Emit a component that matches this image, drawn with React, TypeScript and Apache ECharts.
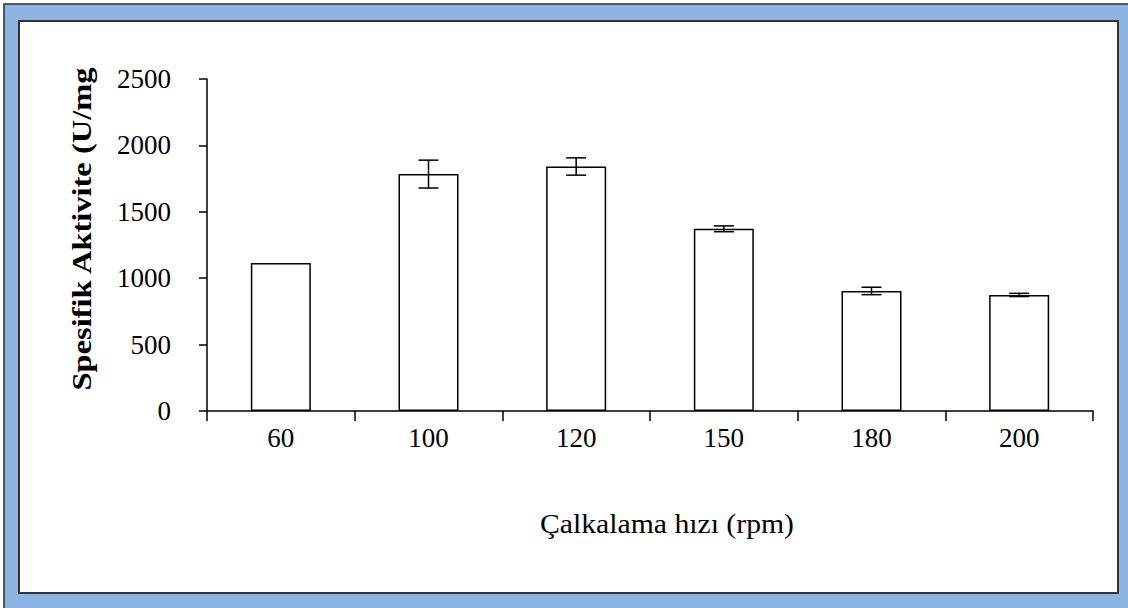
import React, { useEffect, useRef } from "react";
import * as echarts from "echarts";

const categories = ["60", "100", "120", "150", "180", "200"];
const values = [1115, 1784, 1841, 1372, 904, 874];
const errors = [0, 105, 65, 22, 28, 12];
const yTicks = { min: 0, max: 2500, interval: 500 };
const xTitle = "Çalkalama hızı (rpm)";
const yTitle = "Spesifik Aktivite (U/mg";

export default function App() {
  const ref = useRef<HTMLDivElement>(null);
  useEffect(() => {
    const chart = echarts.init(ref.current!, undefined, { renderer: "svg" });
    const font = "'Liberation Serif', 'Times New Roman', serif";
    chart.setOption({
      animation: false,
      backgroundColor: "#ffffff",
      graphic: [
        {
          type: "rect",
          z: -10,
          shape: { x: 4, y: 4, width: 1130, height: 610 },
          style: { fill: "#8eb4e3", stroke: "#2b2b2b", lineWidth: 1.5 },
        },
        {
          type: "rect",
          z: -9,
          shape: { x: 19, y: 21, width: 1099, height: 572 },
          style: { fill: "#ffffff", stroke: "#333333", lineWidth: 2 },
        },
        {
          type: "text",
          x: 82,
          y: 229,
          rotation: Math.PI / 2,
          scaleX: 1.16,
          style: {
            text: yTitle,
            font: `bold 28px ${font}`,
            fill: "#000",
            align: "center",
            verticalAlign: "middle",
          },
        },
        {
          type: "text",
          x: 667,
          y: 524,
          scaleX: 1.1,
          style: {
            text: xTitle,
            font: `27px ${font}`,
            fill: "#000",
            align: "center",
            verticalAlign: "middle",
          },
        },
      ],
      grid: { left: 207, right: 35, top: 79, bottom: 197, containLabel: false },
      xAxis: {
        type: "category",
        data: categories,
        boundaryGap: true,
        axisLine: { show: true, lineStyle: { color: "#000", width: 1.5 } },
        axisTick: { show: true, length: 10, lineStyle: { color: "#000", width: 1.5 } },
        axisLabel: { fontFamily: font, fontSize: 27, color: "#000", margin: 13 },
        splitLine: { show: false },
      },
      yAxis: {
        type: "value",
        min: yTicks.min,
        max: yTicks.max,
        interval: yTicks.interval,
        axisLine: { show: true, lineStyle: { color: "#000", width: 1.5 } },
        axisTick: { show: true, length: 8, lineStyle: { color: "#000", width: 1.5 } },
        axisLabel: {
          fontFamily: font,
          fontSize: 27,
          color: "#000",
          margin: 36,
          formatter: (v: number) => String(v),
        },
        splitLine: { show: false },
      },
      series: [
        {
          type: "bar",
          data: values,
          barWidth: 60,
          itemStyle: { color: "#ffffff", borderColor: "#000", borderWidth: 1.5 },
        },
        {
          type: "custom",
          data: values.map((v, i) => [i, v, errors[i]]),
          z: 5,
          renderItem: (params: any, api: any) => {
            const i = api.value(0);
            const v = api.value(1);
            const e = api.value(2);
            if (!e) return null;
            const hi = api.coord([i, v + e]);
            const lo = api.coord([i, v - e]);
            const half = 10;
            const st = { stroke: "#000", lineWidth: 1.5 };
            return {
              type: "group",
              children: [
                { type: "line", shape: { x1: hi[0], y1: hi[1], x2: lo[0], y2: lo[1] }, style: st },
                { type: "line", shape: { x1: hi[0] - half, y1: hi[1], x2: hi[0] + half, y2: hi[1] }, style: st },
                { type: "line", shape: { x1: lo[0] - half, y1: lo[1], x2: lo[0] + half, y2: lo[1] }, style: st },
              ],
            };
          },
        },
      ],
    });
    return () => chart.dispose();
  }, []);
  return (
    <div
      ref={ref}
      style={{ position: "fixed", left: 0, top: 0, width: 1128, height: 608 }}
    />
  );
}
